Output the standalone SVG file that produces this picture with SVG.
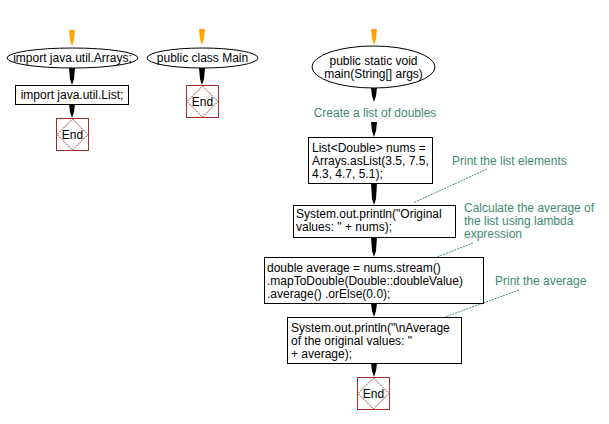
<svg xmlns="http://www.w3.org/2000/svg" width="609" height="424" viewBox="0 0 609 424">
<style>
text{font-family:"Liberation Sans",Arial,sans-serif;font-size:12px;fill:#000}
.mid{text-anchor:middle}
.note{fill:#3f8a6e}
.shape{fill:#fff;stroke:#000;stroke-width:1}
.endbox{fill:#fff;stroke:#a52a2a;stroke-width:1}
.diam{fill:none;stroke:#a52a2a;stroke-width:1;stroke-dasharray:2 1}
.leader{fill:none;stroke:#3f8a6e;stroke-width:1;stroke-dasharray:2 1}
.arr{fill:#000}
.start{fill:#ffa500}
</style>
<rect width="609" height="424" fill="#fff"/>
<g id="connectors">
<polygon class="start" points="69,30 75,30 74,40 72,46 70,40"/>
<polygon class="start" points="199,29 205,29 204,39 202,45 200,39"/>
<polygon class="start" points="371,29 377,29 376,39 374,45 372,39"/>
<polygon class="arr" points="69,68 75,68 74,79 72,85 70,79"/>
<polygon class="arr" points="69,104 75,104 74,112 72,118 70,112"/>
<polygon class="arr" points="199,68 205,68 204,79 202,85 200,79"/>
<polygon class="arr" points="371,88 377,88 376,96 374,102 372,96"/>
<polygon class="arr" points="371,122 377,122 376,131 374,137 372,131"/>
<polygon class="arr" points="371,183 377,183 376,199 374,205 372,199"/>
<polygon class="arr" points="371,237 377,237 376,251 374,257 372,251"/>
<polygon class="arr" points="371,303 377,303 376,311 374,317 372,311"/>
<polygon class="arr" points="371,363 377,363 376,371 374,377 372,371"/>
<polyline class="leader" points="487,169 413,203"/>
<polyline class="leader" points="473,243 437,257"/>
<polyline class="leader" points="519,290 445,317"/>
</g>
<g id="n_imports">
<ellipse class="shape" cx="72.5" cy="58" rx="65.5" ry="10"/>
<text class="mid" x="72.5" y="62">import java.util.Arrays;</text>
</g>
<g id="n_import_list">
<rect class="shape" x="15.5" y="85.5" width="113" height="19"/>
<text class="mid" x="72" y="99">import java.util.List;</text>
</g>
<g id="n_end1">
<rect class="endbox" x="56.5" y="118.5" width="32" height="32"/>
<polygon class="diam" points="72.5,119 88,134.5 72.5,150 57,134.5"/>
<text class="mid" x="72.5" y="139">End</text>
</g>
<g id="n_class">
<ellipse class="shape" cx="202.5" cy="58" rx="55.5" ry="10"/>
<text class="mid" x="202.5" y="62">public class Main</text>
</g>
<g id="n_end2">
<rect class="endbox" x="186.5" y="85.5" width="32" height="32"/>
<polygon class="diam" points="202.5,86 218,101.5 202.5,117 187,101.5"/>
<text class="mid" x="202.5" y="106">End</text>
</g>
<g id="n_main">
<ellipse class="shape" cx="373.5" cy="67" rx="61.5" ry="21"/>
<text class="mid" x="373.5" y="65">public static void</text>
<text class="mid" x="373.5" y="78">main(String[] args)</text>
</g>
<g id="n_comment1">
<text class="mid note" x="375" y="117">Create a list of doubles</text>
</g>
<g id="n_list">
<rect class="shape" x="308.5" y="137.5" width="124" height="46"/>
<text x="312" y="152">List&lt;Double&gt; nums =</text>
<text x="312" y="165">Arrays.asList(3.5, 7.5,</text>
<text x="312" y="178">4.3, 4.7, 5.1);</text>
</g>
<g id="n_print1">
<rect class="shape" x="293.5" y="205.5" width="162" height="32"/>
<text x="296" y="218">System.out.println("Original</text>
<text x="296" y="231">values: " + nums);</text>
</g>
<g id="n_avg">
<rect class="shape" x="264.5" y="257.5" width="219" height="46"/>
<text x="267" y="272">double average = nums.stream()</text>
<text x="267" y="285">.mapToDouble(Double::doubleValue)</text>
<text x="267" y="298">.average() .orElse(0.0);</text>
</g>
<g id="n_print2">
<rect class="shape" x="287.5" y="317.5" width="174" height="46"/>
<text x="291" y="332">System.out.println("\nAverage</text>
<text x="291" y="345">of the original values: "</text>
<text x="291" y="358">+ average);</text>
</g>
<g id="n_end3">
<rect class="endbox" x="357.5" y="377.5" width="32" height="32"/>
<polygon class="diam" points="373.5,378 389,393.5 373.5,409 358,393.5"/>
<text class="mid" x="373.5" y="398">End</text>
</g>
<g id="n_note_print">
<text class="note" x="452" y="165">Print the list elements</text>
</g>
<g id="n_note_calc">
<text class="note" x="464" y="212">Calculate the average of</text>
<text class="note" x="464" y="225">the list using lambda</text>
<text class="note" x="464" y="238">expression</text>
</g>
<g id="n_note_avg">
<text class="note" x="495" y="285">Print the average</text>
</g>
</svg>
